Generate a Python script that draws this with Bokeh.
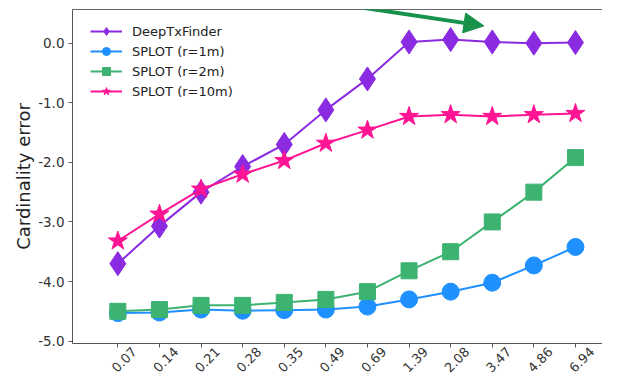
from bokeh.plotting import figure
from bokeh.models import (Range1d, FixedTicker, PrintfTickFormatter, Legend, LegendItem,
                          Arrow, NormalHead, LinearAxis, ColumnDataSource)
from bokeh.embed import file_html
from bokeh.resources import INLINE
import math

categories = ["0.07", "0.14", "0.21", "0.28", "0.35", "0.49", "0.69", "1.39", "2.08", "3.47", "4.86", "6.94"]
deeptx = [-3.70, -3.07, -2.50, -2.07, -1.70, -1.12, -0.60, 0.02, 0.06, 0.02, 0.00, 0.01]
splot_1m = [-4.53, -4.52, -4.47, -4.49, -4.48, -4.47, -4.42, -4.30, -4.17, -4.02, -3.73, -3.42]
splot_2m = [-4.50, -4.47, -4.40, -4.40, -4.35, -4.30, -4.17, -3.82, -3.50, -3.00, -2.50, -1.92]
splot_10m = [-3.32, -2.87, -2.45, -2.20, -1.97, -1.68, -1.46, -1.23, -1.20, -1.23, -1.20, -1.18]
y_ticks = [0.0, -1.0, -2.0, -3.0, -4.0, -5.0]

xs = list(range(len(categories)))
lbl_shift = 0.4
lbl_pos = [round(i + lbl_shift, 2) for i in xs]

p = figure(width=602, height=379, output_backend="svg", toolbar_location=None,
           x_range=Range1d(-1.09, 11.65), y_range=Range1d(-5.04, 0.565),
           min_border_left=72, min_border_right=0, min_border_top=9, min_border_bottom=20)
p.background_fill_color = "white"
p.border_fill_color = "white"
p.grid.visible = False
p.outline_line_color = None

ax_col = "#555555"
xa = p.below[0]
# labels sit on (hidden) major ticks nudged right so they look centred like the original;
# the visible tick marks are minor ticks at the true category positions
xa.ticker = FixedTicker(ticks=lbl_pos, minor_ticks=xs)
xa.major_label_overrides = {v: c for v, c in zip(lbl_pos, categories)}
xa.major_label_orientation = math.pi / 4
xa.major_label_text_font = "DejaVu Sans"
xa.major_label_text_font_size = "13px"
xa.major_label_text_color = "#333333"
xa.major_label_standoff = 2
xa.major_tick_line_color = None
xa.major_tick_in = 0
xa.major_tick_out = 0
xa.minor_tick_line_color = ax_col
xa.minor_tick_in = 0
xa.minor_tick_out = 4
xa.axis_line_color = ax_col

# top spine
top = LinearAxis(ticker=FixedTicker(ticks=[]), major_tick_out=0, major_tick_in=0,
                 minor_tick_out=0, minor_tick_in=0,
                 major_label_standoff=0, axis_line_color="#666666", axis_line_width=1)
p.add_layout(top, "above")

ya = p.left[0]
ya.ticker = FixedTicker(ticks=y_ticks)
ya.formatter = PrintfTickFormatter(format="%.1f")
ya.major_label_text_font = "DejaVu Sans"
ya.major_label_text_font_size = "13.5px"
ya.major_label_text_color = "#333333"
ya.major_label_standoff = 4
ya.minor_tick_line_color = None
ya.major_tick_in = 0
ya.major_tick_out = 4
ya.axis_line_color = ax_col
ya.major_tick_line_color = ax_col
ya.axis_label = "Cardinality error"
ya.axis_label_text_font = "DejaVu Sans"
ya.axis_label_text_font_size = "18px"
ya.axis_label_text_font_style = "normal"
ya.axis_label_text_color = "#222222"
ya.axis_label_standoff = 1

series = [
    ("DeepTxFinder", deeptx, "#8A2BE2", "diamond", 24),
    ("SPLOT (r=1m)", splot_1m, "#1E90FF", "circle", 17),
    ("SPLOT (r=2m)", splot_2m, "#3CB371", "square", 16),
    ("SPLOT (r=10m)", splot_10m, "#FF1493", "star", 20),
]

items = []
for name, ys, col, mk, sz in series:
    src = ColumnDataSource(dict(x=xs, y=ys))
    l = p.line("x", "y", source=src, line_color=col, line_width=2)
    s = p.scatter("x", "y", source=src, marker=mk, size=sz, fill_color=col, line_color=col)
    items.append(LegendItem(label=name, renderers=[l, s]))

legend = Legend(items=items, location=(18, 242), margin=0, padding=0,
                glyph_width=32, glyph_height=20, label_height=20, spacing=0,
                label_text_font="DejaVu Sans", label_text_font_size="13px",
                label_text_color="#222222", label_standoff=10,
                border_line_alpha=0, background_fill_alpha=0)
p.add_layout(legend, "center")

arrow = Arrow(end=NormalHead(size=20, fill_color="#16924A", line_color="#16924A"),
              x_start=4.4, y_start=0.75, x_end=8.8, y_end=0.29,
              line_color="#16924A", line_width=4)
p.add_layout(arrow)

open("out.html", "w").write(file_html(p, INLINE))
